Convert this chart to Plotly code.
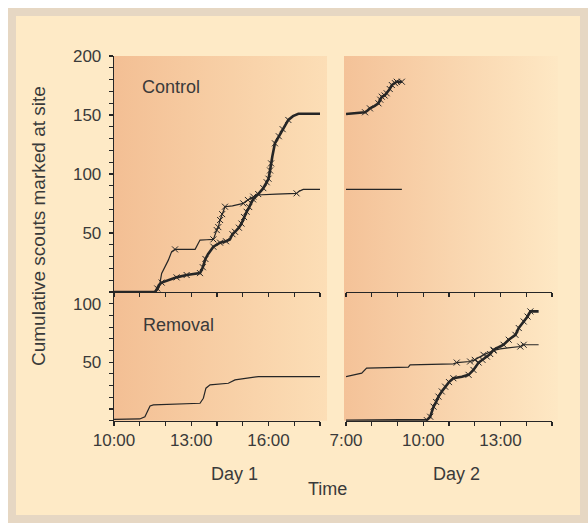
import base64
import plotly.graph_objects as go

# ---------------- data (hours of day, cumulative scouts) ----------------
# Control, Day 1
ctrl_d1_thick_t = [10.0, 11.6, 11.68, 11.75, 11.85, 12.1, 12.43, 12.82, 13.2, 13.34, 13.45, 13.55, 13.65, 13.86,
                   14.12, 14.35, 14.5, 14.6, 14.7, 14.85, 14.95, 15.05, 15.15, 15.25, 15.4, 15.6, 15.8, 15.93,
                   16.0, 16.06, 16.1, 16.15, 16.25, 16.4, 16.55, 16.77, 16.95, 17.16, 18.0]
ctrl_d1_thick_y = [0, 0, 3, 6, 8, 10, 12.4, 14.4, 15.5, 16, 21, 28, 32, 38.4,
                   41.8, 43, 44.5, 49, 51, 54.5, 58, 63.5, 68, 72, 78.5, 83, 88, 93,
                   96, 103, 109, 115, 126, 132, 138, 145.8, 149, 151, 151]
ctrl_d1_thick_x_marks = [0, 0, 1, 0, 1, 0, 1, 1, 0, 1, 1, 1, 0, 1,
                         1, 1, 0, 1, 1, 1, 1, 1, 1, 1, 1, 1, 1, 1,
                         1, 1, 1, 0, 1, 1, 1, 1, 0, 0, 0]

ctrl_d1_thin_t = [10.0, 11.6, 11.7, 11.76, 11.85, 11.98, 12.11, 12.24, 12.37, 13.15, 13.25, 13.34, 13.6, 13.86,
                  13.99, 14.05, 14.12, 14.2, 14.31, 14.6, 15.02, 15.2, 15.41, 15.54, 16.3, 17.09, 17.2, 17.35, 18.0]
ctrl_d1_thin_y = [0, 0, 2, 4.5, 15.8, 21.5, 27, 34.2, 36.1, 36.1, 40, 44, 44.3, 44.6,
                  52.5, 55, 61, 66, 72.3, 73, 75.1, 78, 80.8, 82.2, 83, 83.6, 85.5, 87, 87]
ctrl_d1_thin_x_marks = [0, 0, 0, 0, 0, 0, 0, 0, 1, 0, 0, 0, 0, 1,
                        1, 1, 1, 1, 1, 0, 1, 1, 1, 0, 0, 1, 0, 0, 0]

# Control, Day 2
ctrl_d2_thick_t = [7.0, 7.5, 7.74, 7.85, 7.93, 8.1, 8.26, 8.33, 8.39, 8.5, 8.58, 8.7, 8.78, 8.9, 8.97, 9.17]
ctrl_d2_thick_y = [150.8, 151.5, 152.3, 154, 155.6, 157.5, 159.9, 163, 165.5, 166.5, 168.4, 172, 175.4, 177, 178.2, 178.2]
ctrl_d2_thick_x_marks = [0, 0, 1, 0, 1, 0, 1, 1, 1, 1, 1, 1, 1, 1, 1, 1]

ctrl_d2_thin_t = [7.0, 9.17]
ctrl_d2_thin_y = [87, 87]

# Removal, Day 1
rem_d1_t = [10.0, 11.0, 11.2, 11.29, 11.4, 11.53, 13.34, 13.47, 13.57, 13.73, 14.44, 14.7, 15.09, 15.61, 18.0]
rem_d1_y = [1.2, 1.5, 3.4, 7.7, 12.6, 13.5, 14.9, 19.2, 27.8, 30.6, 32, 34.9, 36.3, 37.7, 37.7]

# Removal, Day 2
rem_d2_thin_t = [7.0, 7.61, 7.8, 9.42, 9.49, 11.17, 11.3, 11.82, 12.0, 12.34, 12.73, 12.99, 13.77, 13.9, 14.48]
rem_d2_thin_y = [37.7, 40.6, 44.9, 45.8, 47.7, 48.6, 49.7, 50.6, 52, 56.3, 60, 61.4, 63.4, 64.9, 64.9]
rem_d2_thin_x_marks = [0, 0, 0, 0, 0, 0, 1, 1, 1, 1, 1, 0, 1, 1, 0]

rem_d2_thick_t = [7.0, 10.14, 10.27, 10.4, 10.5, 10.59, 10.72, 10.85, 11.0, 11.17, 11.5, 11.76, 11.95, 12.15,
                  12.3, 12.47, 12.6, 12.73, 13.12, 13.32, 13.58, 13.71, 13.9, 14.05, 14.16, 14.48]
rem_d2_thick_y = [0, 0.5, 3.4, 12, 16, 20.6, 25, 29.1, 33, 36.3, 37.5, 39.2, 43.4, 49.7,
                  52, 54.8, 57, 60.6, 64.9, 69.2, 73.4, 79.2, 84.8, 89, 93.4, 93.4]
rem_d2_thick_x_marks = [0, 1, 1, 1, 1, 1, 1, 1, 1, 1, 0, 1, 1, 1,
                        1, 1, 1, 1, 1, 1, 1, 1, 1, 1, 1, 0]

day1_ticks = [10, 11, 12, 13, 14, 15, 16, 17, 18]
day1_labels = ["10:00", "", "", "13:00", "", "", "16:00", "", ""]
day2_ticks = [7, 8, 9, 10, 11, 12, 13, 14, 15]
day2_labels = ["7:00", "", "", "10:00", "", "", "13:00", "", ""]
top_y_ticks = list(range(0, 201, 10))
top_y_labels = [str(v) if v in (50, 100, 150, 200) else "" for v in top_y_ticks]
bot_y_ticks = list(range(0, 101, 10))
bot_y_labels = [str(v) if v in (50, 100) else "" for v in bot_y_ticks]

# ---------------- figure ----------------
W, H = 588, 523
INK = "#262626"
TXT = "#3a3a3a"
FONT = "Liberation Sans, Arial, sans-serif"


def px(x):
    return x / W


def py(y):
    return 1 - y / H


fig = go.Figure()


def add_line(t, y, xa, ya, width, marks=None):
    fig.add_trace(go.Scatter(x=t, y=y, xaxis=xa, yaxis=ya, mode="lines",
                             line=dict(color=INK, width=width), hoverinfo="skip", showlegend=False))
    if marks is not None:
        mt = [a for a, m in zip(t, marks) if m]
        my = [b for b, m in zip(y, marks) if m]
        fig.add_trace(go.Scatter(x=mt, y=my, xaxis=xa, yaxis=ya, mode="markers",
                                 marker=dict(symbol="x-thin", size=6, line=dict(color=INK, width=1)),
                                 hoverinfo="skip", showlegend=False))


add_line(ctrl_d1_thin_t, ctrl_d1_thin_y, "x", "y", 1.2, ctrl_d1_thin_x_marks)
add_line(ctrl_d1_thick_t, ctrl_d1_thick_y, "x", "y", 2.6, ctrl_d1_thick_x_marks)
add_line(ctrl_d2_thin_t, ctrl_d2_thin_y, "x2", "y2", 1.3)
add_line(ctrl_d2_thick_t, ctrl_d2_thick_y, "x2", "y2", 2.6, ctrl_d2_thick_x_marks)
add_line(rem_d1_t, rem_d1_y, "x3", "y3", 1.2)
add_line(rem_d2_thin_t, rem_d2_thin_y, "x4", "y4", 1.2, rem_d2_thin_x_marks)
add_line(rem_d2_thick_t, rem_d2_thick_y, "x4", "y4", 2.6, rem_d2_thick_x_marks)

d1 = [px(114), px(320)]
d2 = [px(346), px(552)]
top_dom = [py(292), py(56)]
bot_dom = [py(420.7), py(292)]

common_x = dict(showline=True, linecolor=INK, linewidth=1.3, ticks="outside", ticklen=4,
                tickwidth=1.2, tickcolor=INK, showgrid=False, zeroline=False, automargin=False,
                tickfont=dict(family=FONT, size=17, color=TXT), fixedrange=True)
common_y = dict(showline=True, linecolor=INK, linewidth=1.3, ticks="outside", ticklen=4,
                tickwidth=1.2, tickcolor=INK, showgrid=False, zeroline=False, automargin=False,
                tickfont=dict(family=FONT, size=17, color=TXT), ticklabelstandoff=4, fixedrange=True)
hidden_y = dict(visible=False, showgrid=False, zeroline=False, automargin=False, fixedrange=True)

fig.update_layout(
    template="none",
    width=W, height=H,
    margin=dict(l=0, r=0, t=0, b=0, pad=0, autoexpand=False),
    paper_bgcolor="#ffffff",
    plot_bgcolor="rgba(0,0,0,0)",
    showlegend=False,
    xaxis=dict(domain=d1, range=[10, 18], anchor="y", tickvals=day1_ticks, ticktext=[""] * 9, **common_x),
    yaxis=dict(domain=top_dom, range=[0, 200], anchor="x", tickvals=top_y_ticks, ticktext=top_y_labels, **common_y),
    xaxis2=dict(domain=d2, range=[7, 15], anchor="y2", tickvals=day2_ticks, ticktext=[""] * 9, **common_x),
    yaxis2=dict(domain=top_dom, range=[0, 200], anchor="x2", **hidden_y),
    xaxis3=dict(domain=d1, range=[10, 18], anchor="y3", tickvals=day1_ticks, ticktext=day1_labels, **common_x),
    yaxis3=dict(domain=bot_dom, range=[0, 110], anchor="x3", tickvals=bot_y_ticks, ticktext=bot_y_labels, **common_y),
    xaxis4=dict(domain=d2, range=[7, 15], anchor="y4", tickvals=day2_ticks, ticktext=day2_labels, **common_x),
    yaxis4=dict(domain=bot_dom, range=[0, 110], anchor="x4", **hidden_y),
)

# background: frame + gradient panels as one svg image
svg = f"""<svg xmlns='http://www.w3.org/2000/svg' width='{W}' height='{H}' viewBox='0 0 {W} {H}' preserveAspectRatio='none'>
<defs>
<linearGradient id='g1' x1='0' x2='1' y1='0' y2='0'><stop offset='0' stop-color='#f3bf94'/><stop offset='1' stop-color='#fcdeb6'/></linearGradient>
<linearGradient id='g2' x1='0' x2='1' y1='0' y2='0'><stop offset='0' stop-color='#f4c298'/><stop offset='1' stop-color='#fee8c4'/></linearGradient>
</defs>
<rect x='0' y='0' width='{W}' height='{H}' fill='#ffffff'/>
<rect x='8' y='8' width='580' height='515' fill='#e6d7c3'/>
<rect x='16' y='16' width='564' height='499' fill='#feeac6'/>
<rect x='114' y='56' width='213' height='364.7' fill='url(#g1)'/>
<rect x='344' y='56' width='214' height='364.7' fill='url(#g2)'/>
</svg>"""
uri = "data:image/svg+xml;base64," + base64.b64encode(svg.encode()).decode()
fig.add_layout_image(dict(source=uri, xref="paper", yref="paper", x=0, y=1, sizex=1, sizey=1,
                          xanchor="left", yanchor="top", sizing="stretch", layer="below"))

ann_font = dict(family=FONT, size=18, color=TXT)
fig.add_annotation(text="Control", x=px(140), y=py(87), xref="paper", yref="paper",
                   xanchor="left", yanchor="middle", showarrow=False, font=ann_font)
fig.add_annotation(text="Removal", x=px(141), y=py(325), xref="paper", yref="paper",
                   xanchor="left", yanchor="middle", showarrow=False, font=ann_font)
fig.add_annotation(text="Day 1", x=px(234), y=py(474), xref="paper", yref="paper",
                   xanchor="center", yanchor="middle", showarrow=False, font=ann_font)
fig.add_annotation(text="Day 2", x=px(456), y=py(474), xref="paper", yref="paper",
                   xanchor="center", yanchor="middle", showarrow=False, font=ann_font)
fig.add_annotation(text="Time", x=px(327), y=py(489), xref="paper", yref="paper",
                   xanchor="center", yanchor="middle", showarrow=False, font=ann_font)
fig.add_annotation(text="Cumulative scouts marked at site", x=px(39), y=py(226), xref="paper", yref="paper",
                   xanchor="center", yanchor="middle", showarrow=False, textangle=-90,
                   font=dict(family=FONT, size=19, color=TXT))

page_js = "document.body.style.margin='0';document.body.style.padding='0';"
fig.write_html("out.html", post_script=page_js, config={"displayModeBar": False, "staticPlot": True})
